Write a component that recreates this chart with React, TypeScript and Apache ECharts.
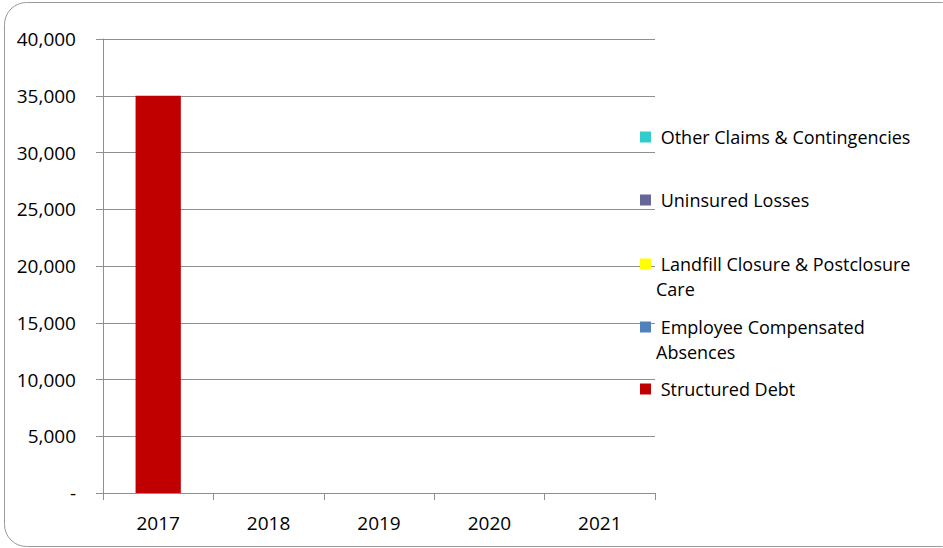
import React, { useEffect, useRef } from "react";
import * as echarts from "echarts";

const categories = ["2017", "2018", "2019", "2020", "2021"];
const structuredDebt = [35000, 0, 0, 0, 0];
const employeeCompensatedAbsences = [0, 0, 0, 0, 0];
const landfillClosure = [0, 0, 0, 0, 0];
const uninsuredLosses = [0, 0, 0, 0, 0];
const otherClaims = [0, 0, 0, 0, 0];
const yTicks = [0, 5000, 10000, 15000, 20000, 25000, 30000, 35000, 40000];

const seriesDefs = [
  { name: "Structured Debt", data: structuredDebt, color: "#C00000", lines: ["Structured Debt"] },
  { name: "Employee Compensated Absences", data: employeeCompensatedAbsences, color: "#4F81BD", lines: ["Employee Compensated", "Absences"] },
  { name: "Landfill Closure & Postclosure Care", data: landfillClosure, color: "#FFFF00", lines: ["Landfill Closure & Postclosure", "Care"] },
  { name: "Uninsured Losses", data: uninsuredLosses, color: "#666699", lines: ["Uninsured Losses"] },
  { name: "Other Claims & Contingencies", data: otherClaims, color: "#33CCCC", lines: ["Other Claims & Contingencies"] },
];

// legend items, top to bottom
const legendOrder = [
  "Other Claims & Contingencies",
  "Uninsured Losses",
  "Landfill Closure & Postclosure Care",
  "Employee Compensated Absences",
  "Structured Debt",
];
const legendCenters = [137, 200, 264, 327, 389];

const FONT = "'Open Sans', sans-serif";
const GRAY = "#8f8f8f";
const LH = 25;

export default function App() {
  const ref = useRef<HTMLDivElement>(null);
  useEffect(() => {
    if (!ref.current) return;
    const chart = echarts.init(ref.current, null, { renderer: "svg" });
    const legends = legendOrder.map((name, i) => {
      const def = seriesDefs.find((s) => s.name === name)!;
      const twoLine = def.lines.length > 1;
      // for wrapped entries, a blank leading line keeps the marker beside the first line
      const text = twoLine
        ? " \n " + def.lines[0] + "\n" + def.lines[1]
        : " " + def.lines[0];
      return {
        data: [name],
        orient: "vertical",
        left: 640,
        top: legendCenters[i] - (twoLine ? LH * 1.5 : LH / 2),
        padding: 0,
        itemWidth: 11,
        itemHeight: 11,
        selectedMode: false,
        icon: "rect",
        formatter: () => text,
        textStyle: {
          fontFamily: FONT,
          fontSize: 18,
          color: "#000",
          lineHeight: LH,
        },
      };
    });
    chart.setOption({
      animation: false,
      backgroundColor: "#fff",
      graphic: [
        {
          type: "rect",
          shape: { x: 4.5, y: 2.5, width: 960, height: 544, r: 22 },
          style: { fill: "none", stroke: "#9a9a9a", lineWidth: 1 },
          silent: true,
        },
      ],
      legend: legends,
      grid: { left: 103, right: 288, top: 39, bottom: 55, containLabel: false },
      xAxis: {
        type: "category",
        data: categories,
        axisLine: { show: true, lineStyle: { color: GRAY, width: 1 } },
        axisTick: { show: true, length: 7, alignWithLabel: false, lineStyle: { color: GRAY } },
        axisLabel: { fontFamily: FONT, fontSize: 19, color: "#000", margin: 20 },
        splitLine: { show: false },
      },
      yAxis: {
        type: "value",
        min: yTicks[0],
        max: yTicks[yTicks.length - 1],
        interval: 5000,
        axisLine: { show: true, lineStyle: { color: GRAY, width: 1 } },
        axisTick: { show: true, length: 7, lineStyle: { color: GRAY } },
        splitLine: { show: true, lineStyle: { color: GRAY, width: 1 } },
        axisLabel: {
          fontFamily: FONT,
          fontSize: 19,
          color: "#000",
          margin: 27,
          formatter: (v: number) => (v === 0 ? "-" : v.toLocaleString("en-US")),
        },
      },
      series: seriesDefs.map((s) => ({
        name: s.name,
        type: "bar",
        stack: "total",
        data: s.data,
        barWidth: "41%",
        itemStyle: { color: s.color },
      })),
    });
    return () => chart.dispose();
  }, []);
  return (
    <div
      ref={ref}
      style={{ position: "absolute", left: 0, top: 0, width: 943, height: 548 }}
    />
  );
}
